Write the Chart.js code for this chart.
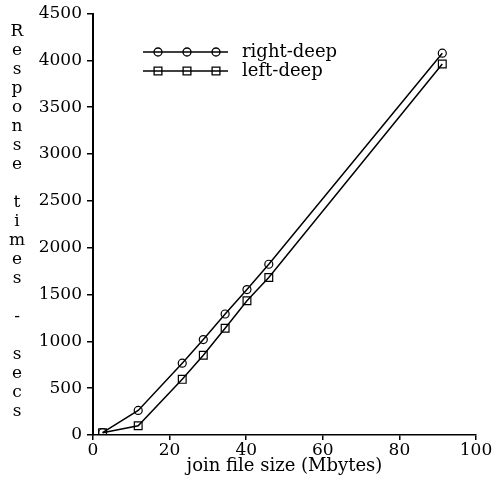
<!DOCTYPE html>
<html>
<head>
<meta charset="utf-8">
<script src="https://cdn.jsdelivr.net/npm/chart.js@4/dist/chart.umd.min.js"></script>
<style>
  html, body { margin: 0; padding: 0; background: #fff; }
  #wrap { width: 498px; height: 487px; }
</style>
</head>
<body>
<div id="wrap"><canvas id="c" width="498" height="487"></canvas></div>
<script>
// data
const fileSizes = [2.5, 11.8, 23.3, 28.8, 34.5, 40.2, 45.9, 91.2];
const rightDeep = [25, 262, 767, 1019, 1292, 1553, 1823, 4076];
const leftDeep = [25, 99, 594, 852, 1139, 1433, 1681, 3960];
const xTicks = [0, 20, 40, 60, 80, 100];
const yTicks = [0, 500, 1000, 1500, 2000, 2500, 3000, 3500, 4000, 4500];
const yTitle = "Response times - secs";
const xTitle = "join file size (Mbytes)";

const FONT = "'DejaVu Serif', serif";
Chart.defaults.font.family = FONT;
Chart.defaults.font.size = 17;
Chart.defaults.color = "#000";

function pts(ys) {
    return fileSizes.map((x, i) => ({ x: x, y: ys[i] }));
}

// stacked vertical y title and the line-with-markers legend
const extras = {
    id: "extras",
    afterDraw(chart) {
        const ctx = chart.ctx;
        ctx.save();
        ctx.fillStyle = "#000";
        ctx.font = "17px " + FONT;
        ctx.textAlign = "center";
        ctx.textBaseline = "middle";
        for (let i = 0; i < yTitle.length; i++) {
            ctx.fillText(yTitle[i], 17, 32 + i * 19);
        }

        const rows = [
            { label: "right-deep", style: "circle", r: 4, y: 52 },
            { label: "left-deep", style: "rect", r: 5.5, y: 71 }
        ];
        ctx.font = "18px " + FONT;
        rows.forEach(row => {
            ctx.strokeStyle = "#000";
            ctx.lineWidth = 1.3;
            ctx.beginPath();
            ctx.moveTo(143, row.y);
            ctx.lineTo(228, row.y);
            ctx.stroke();
            ctx.fillStyle = "rgba(0,0,0,0)";
            [158, 187, 216].forEach(px => {
                Chart.helpers.drawPoint(ctx, {
                    pointStyle: row.style, radius: row.r, borderWidth: 1.2, rotation: 0
                }, px, row.y);
            });
            ctx.fillStyle = "#000";
            ctx.textAlign = "left";
            ctx.fillText(row.label, 242, row.y);
        });
        ctx.restore();
    }
};

new Chart(document.getElementById("c"), {
    type: "scatter",
    data: {
        datasets: [
            {
                label: "right-deep",
                data: pts(rightDeep),
                showLine: true,
                borderColor: "#000",
                borderWidth: 1.5,
                pointStyle: "circle",
                pointRadius: 4,
                pointBorderColor: "#000",
                pointBackgroundColor: "rgba(0,0,0,0)",
                pointBorderWidth: 1.2
            },
            {
                label: "left-deep",
                data: pts(leftDeep),
                showLine: true,
                borderColor: "#000",
                borderWidth: 1.5,
                pointStyle: "rect",
                pointRadius: 5.5,
                pointBorderColor: "#000",
                pointBackgroundColor: "rgba(0,0,0,0)",
                pointBorderWidth: 1.2
            }
        ]
    },
    options: {
        responsive: false,
        animation: false,
        layout: { padding: { top: 10, right: 22, bottom: 10, left: 0 } },
        plugins: {
            legend: { display: false },
            tooltip: { enabled: false }
        },
        scales: {
            x: {
                type: "linear",
                min: 0,
                max: 100,
                afterBuildTicks: s => { s.ticks = xTicks.map(v => ({ value: v })); },
                grid: { drawOnChartArea: false, color: "#000", tickLength: 5, lineWidth: 1.5 },
                border: { color: "#000", width: 1.5 },
                ticks: { padding: 0, maxRotation: 0, callback: v => String(v) },
                title: { display: true, text: xTitle, font: { size: 18 }, padding: { top: -5, bottom: 0 } }
            },
            y: {
                type: "linear",
                min: 0,
                max: 4500,
                afterBuildTicks: s => { s.ticks = yTicks.map(v => ({ value: v })); },
                afterFit: s => { s.width = 93; },
                grid: { drawOnChartArea: false, color: "#000", tickLength: 6, lineWidth: 1.5 },
                border: { color: "#000", width: 2 },
                ticks: { padding: 5, font: { lineHeight: 1 }, callback: v => String(v) }
            }
        }
    },
    plugins: [extras]
});
</script>
</body>
</html>
